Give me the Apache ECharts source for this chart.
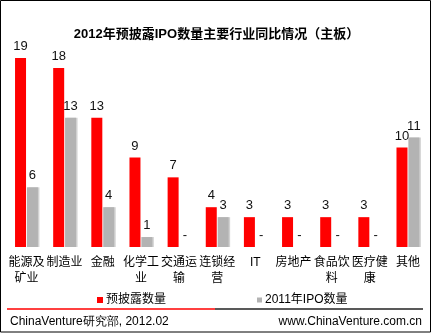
<!DOCTYPE html>
<html><head><meta charset="utf-8">
<script src="https://cdn.jsdelivr.net/npm/echarts@6/dist/echarts.min.js"></script>
<style>html,body{margin:0;padding:0;background:#fff}#c{width:433px;height:333px}</style>
</head><body><div id="c"></div>
<script>
const titleText = '2012年预披露IPO数量主要行业同比情况（主板）';
const categories = ['能源及\n矿业','制造业','金融','化学工\n业','交通运\n输','连锁经\n营','IT','房地产','食品饮\n料','医疗健\n康','其他'];
const seriesNames = ['预披露数量','2011年IPO数量'];
const prelist = [19,18,13,9,7,4,3,3,3,3,10];
const ipo2011 = [6,13,4,1,null,3,null,null,null,null,11];
const sourceText = 'ChinaVenture研究部, 2012.02';
const siteText = 'www.ChinaVenture.com.cn';

const FONT = 'Arial, "Liberation Sans", "Noto Sans CJK SC", sans-serif';
const chart = echarts.init(document.getElementById('c'), null, {renderer:'canvas'});
const grayData = ipo2011.map(v => v === null
  ? {value:0, label:{formatter:'-'}}
  : v);
chart.setOption({
  animation:false,
  textStyle:{fontFamily:FONT},
  title:{text:titleText, left:'center', top:23, textStyle:{fontSize:13, fontWeight:'bold', color:'#000', fontFamily:FONT}},
  grid:{left:7.4, width:419.6, top:48, height:199, containLabel:false},
  legend:[
    {data:[seriesNames[0]], left:92, top:289, icon:'rect', itemWidth:6, itemHeight:6, itemGap:0,
      textStyle:{fontSize:12, color:'#000', padding:[0,0,0,-2]}},
    {data:[seriesNames[1]], left:252, top:289, icon:'rect', itemWidth:5, itemHeight:5, itemGap:0,
      textStyle:{fontSize:12, color:'#000', padding:[0,0,0,-2]}}
  ],
  xAxis:{type:'category', data:categories,
    axisLine:{show:false}, axisTick:{show:false},
    axisLabel:{interval:0, fontSize:12, color:'#000', lineHeight:16, margin:8, fontFamily:FONT}},
  yAxis:{type:'value', min:0, max:20, show:false, splitLine:{show:false}},
  series:[
    {name:seriesNames[0], type:'bar', data:prelist, barWidth:11, barGap:'8%',
      itemStyle:{color:'#ff0000'},
      label:{show:true, position:'top', distance:5, fontSize:13, color:'#111', fontFamily:FONT}},
    {name:seriesNames[1], type:'bar', data:grayData, barWidth:11,
      itemStyle:{color:'#b3b3b3', shadowColor:'rgba(0,0,0,0.18)', shadowOffsetX:1.5, shadowBlur:0},
      label:{show:true, position:'top', distance:5, fontSize:13, color:'#111', fontFamily:FONT}}
  ],
  graphic:[
    {type:'rect', shape:{x:0.5,y:0.5,width:430,height:331.5}, style:{fill:null, stroke:'#000', lineWidth:1}, silent:true},
    {type:'line', shape:{x1:7,y1:309,x2:215,y2:309}, style:{stroke:'#ff0000', lineWidth:1.5}},
    {type:'line', shape:{x1:215,y1:309,x2:423,y2:309}, style:{stroke:'#222', lineWidth:1.5}},
    {type:'text', left:10, top:316, style:{text:sourceText, fontSize:12, fill:'#000', font:'12px '+FONT}},
    {type:'text', right:11, top:316, style:{text:siteText, fontSize:12, fill:'#000', font:'12px '+FONT}}
  ]
});
</script></body></html>
